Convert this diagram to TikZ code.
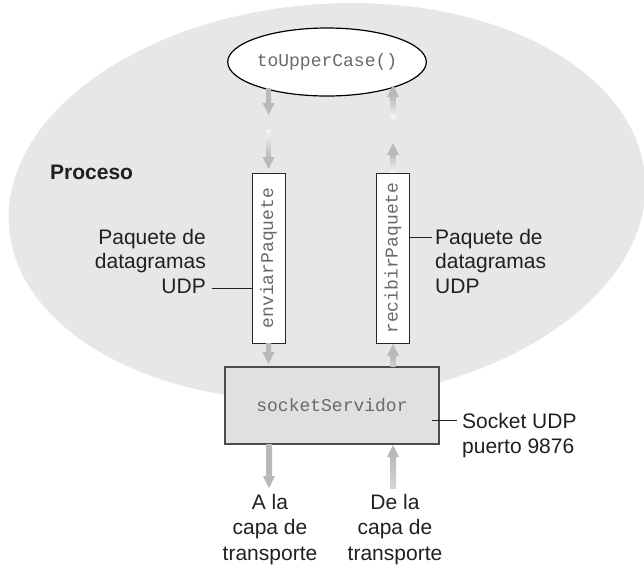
\documentclass[tikz,border=0pt]{standalone}
\usepackage{fontspec}
\setmainfont{Liberation Sans}
\newfontfamily\codefont{Liberation Mono}
\usepackage{graphicx}
\usetikzlibrary{calc,shapes.geometric}
\definecolor{bgell}{RGB}{230,231,232}
\definecolor{arrowgray}{RGB}{184,185,187}
\definecolor{fadegray}{RGB}{246,246,247}
\definecolor{sockfill}{RGB}{223,224,226}
\definecolor{codegray}{RGB}{105,105,105}
\definecolor{txt}{RGB}{35,31,32}
\newcommand\downarr[4]{%
  \shade[top color=#3, bottom color=arrowgray] let \p1=(#1), \p2=(#2) in (\x1-#4,\y1) rectangle (\x1+#4,\y2+11pt);
  \fill[arrowgray] let \p1=(#1), \p2=(#2) in (\x1-6pt,\y2+12pt) -- (\x1+6pt,\y2+12pt) -- (\x1,\y2) -- cycle;
}
\newcommand\uparr[4]{%
  \shade[top color=arrowgray, bottom color=#3] let \p1=(#1), \p2=(#2) in (\x1-#4,\y1) rectangle (\x1+#4,\y2-11pt);
  \fill[arrowgray] let \p1=(#1), \p2=(#2) in (\x1-6pt,\y2-12pt) -- (\x1+6pt,\y2-12pt) -- (\x1,\y2) -- cycle;
}
\tikzset{
  lbl/.style={font=\fontsize{21}{24.5}\selectfont, text=txt, inner sep=0pt},
  code/.style={font=\codefont\fontsize{18}{20}\selectfont, text=codegray},
  pktbox/.style={draw=black!85, line width=1pt, fill=white, minimum width=33pt, minimum height=170pt, inner sep=0pt, code},
  leader/.style={draw=txt, line width=0.9pt}
}
\begin{document}
\begin{tikzpicture}[x=1pt,y=-1pt]
\useasboundingbox (0,0) rectangle (644,566);
% process area
\fill[bgell, rotate around={4.5:(327,202)}] (327,202) ellipse [x radius=319, y radius=198];
\node[lbl, font=\bfseries\fontsize{21}{24.5}\selectfont, anchor=base west] (proc) at (50,179) {Proceso};

% nodes
\node[ellipse, draw=black, line width=1.2pt, fill=white, minimum width=162pt, minimum height=68pt, inner sep=0pt, code] (upper) at (327,62) {toUpperCase()};
\node[pktbox] (env) at (268.5,258) {\rotatebox{90}{enviarPaquete}};
\node[pktbox] (rec) at (393,258) {\rotatebox{90}{recibirPaquete}};
\node[draw=black!70, line width=1.6pt, fill=sockfill, minimum width=214pt, minimum height=77pt, inner sep=0pt, code] (sock) at (332,405.5) {socketServidor};

% arrow end points
\coordinate (a1s) at (268.5,88);  \coordinate (a1e) at (268.5,115);
\coordinate (a2s) at (268.5,130); \coordinate (a2e) at (268.5,169);
\coordinate (a3e) at (268.5,364);
\coordinate (b2s) at (393,172);   \coordinate (b2e) at (393,143);
\coordinate (b3s) at (393,118);   \coordinate (b3e) at (393,85);
\coordinate (b1e) at (393,344);
\coordinate (c1s) at (269,444);   \coordinate (c1e) at (269,488);
\coordinate (c2s) at (393,488);   \coordinate (c2e) at (393,445);

\downarr{a1s}{a1e}{arrowgray}{2.5pt}
\downarr{a2s}{a2e}{fadegray}{2.5pt}
\downarr{env.south}{a3e}{arrowgray}{2.5pt}
\uparr{b2s}{b2e}{fadegray}{2.5pt}
\uparr{b3s}{b3e}{fadegray}{2.5pt}
\uparr{sock.north -| rec.south}{b1e}{arrowgray!70!white}{2.5pt}
\downarr{c1s}{c1e}{arrowgray}{3pt}
\uparr{c2s}{c2e}{arrowgray!60!white}{3pt}

% labels (base anchor = baseline of last line)
\node[lbl, align=right, anchor=base east] (lpk) at (206,293) {Paquete de\\datagramas\\UDP};
\node[lbl, align=left, anchor=base west] (rpk) at (435,293) {Paquete de\\datagramas\\UDP};
\node[lbl, align=left, anchor=base west] (slb) at (462,453) {Socket UDP\\puerto 9876};
\node[lbl, font=\fontsize{21}{25.5}\selectfont, align=center, anchor=base] (tol) at (270,560) {A la\\capa de\\transporte};
\node[lbl, font=\fontsize{21}{25.5}\selectfont, align=center, anchor=base] (frl) at (395,560) {De la\\capa de\\transporte};

% leader lines
\coordinate (lp) at (212,288);
\coordinate (rp) at (432,237);
\coordinate (sp0) at (432,420);
\coordinate (sp) at (457,420);
\draw[leader] (lp) -- (env.west |- lp);
\draw[leader] (rec.east |- rp) -- (rp);
\draw[leader] (sp0) -- (sp);
\end{tikzpicture}
\end{document}
